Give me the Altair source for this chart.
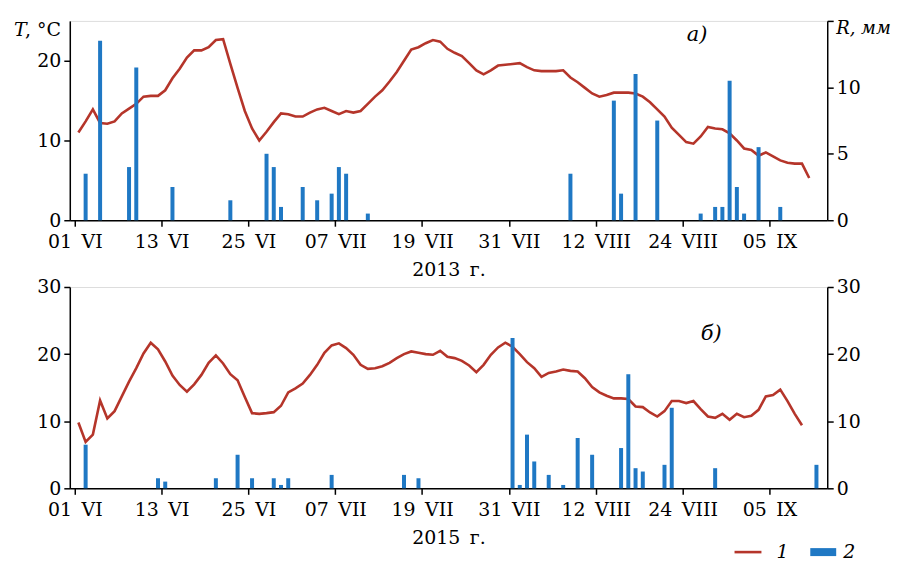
import altair as alt
import pandas as pd

# ---------------- data ----------------
TICK_DAYS = [0, 12, 24, 36, 48, 60, 72, 84, 96]
TICK_LABELS = ["01 VI", "13 VI", "25 VI", "07 VII", "19 VII", "31 VII", "12 VIII", "24 VIII", "05 IX"]

T_2013 = [11.0, 12.4, 13.9, 12.2, 12.1, 12.4, 13.4, 14.0, 14.6, 15.5,
          15.6, 15.6, 16.3, 17.8, 19.0, 20.4, 21.3, 21.3, 21.7, 22.6,
          22.7, 19.6, 16.6, 13.7, 11.5, 10.0, 11.1, 12.3, 13.4, 13.3,
          13.0, 13.0, 13.5, 13.9, 14.1, 13.7, 13.3, 13.7, 13.5, 13.7,
          14.6, 15.5, 16.3, 17.4, 18.6, 20.0, 21.4, 21.7, 22.2, 22.6,
          22.4, 21.5, 21.0, 20.6, 19.7, 18.8, 18.3, 18.8, 19.4, 19.5,
          19.6, 19.7, 19.2, 18.8, 18.7, 18.7, 18.7, 18.8, 17.9, 17.3,
          16.6, 15.9, 15.5, 15.7, 16.0, 16.0, 16.0, 15.9, 15.5, 14.8,
          13.9, 13.0, 11.6, 10.7, 9.8, 9.6, 10.5, 11.7, 11.5, 11.4,
          10.9, 10.0, 9.0, 8.8, 8.1, 8.5, 8.0, 7.5, 7.2, 7.1,
          7.1, 5.3]
DAYS_2013 = list(range(len(T_2013)))

RAIN_DAYS_2013 = [1, 3, 7, 8, 13, 21, 26, 27, 28, 31, 33, 35, 36, 37, 40,
                  68, 74, 75, 77, 80, 86, 88, 89, 90, 91, 92, 94, 97]
RAIN_2013 = [3.5, 13.5, 4.0, 11.5, 2.5, 1.5, 5.0, 4.0, 1.0, 2.5, 1.5, 2.0, 4.0, 3.5, 0.5,
             3.5, 9.0, 2.0, 11.0, 7.5, 0.5, 1.0, 1.0, 10.5, 2.5, 0.5, 5.5, 1.0]

T_2015 = [9.8, 6.9, 8.0, 13.1, 10.4, 11.5, 13.7, 15.9, 17.9, 20.1,
          21.7, 20.7, 18.9, 16.8, 15.4, 14.4, 15.5, 16.9, 18.7, 19.8,
          18.6, 17.0, 16.1, 13.6, 11.2, 11.1, 11.2, 11.35, 12.3, 14.3,
          14.9, 15.6, 16.9, 18.4, 20.2, 21.3, 21.6, 20.9, 19.9, 18.4,
          17.8, 17.9, 18.2, 18.7, 19.4, 20.0, 20.4, 20.2, 20.0, 19.9,
          20.5, 19.6, 19.4, 19.0, 18.3, 17.3, 18.4, 19.9, 21.0, 21.7,
          21.1, 20.0, 18.8, 17.9, 16.6, 17.2, 17.4, 17.7, 17.5, 17.4,
          16.4, 15.1, 14.3, 13.8, 13.4, 13.4, 13.3, 12.2, 12.1, 11.3,
          10.7, 11.5, 13.0, 13.0, 12.7, 13.0, 11.8, 10.7, 10.5, 11.1,
          10.2, 11.1, 10.6, 10.8, 11.7, 13.7, 13.9, 14.7, 13.0, 11.1,
          9.4]
DAYS_2015 = list(range(len(T_2015)))

RAIN_DAYS_2015 = [1, 11, 12, 19, 22, 24, 27, 28, 29, 35, 45, 47,
                  60, 61, 62, 63, 65, 67, 69, 71, 75, 76, 77, 78, 81, 82, 88, 102]
RAIN_2015 = [6.5, 1.5, 1.0, 1.5, 5.0, 1.5, 1.5, 0.5, 1.5, 2.0, 2.0, 1.5,
             22.4, 0.5, 8.0, 4.0, 2.0, 0.5, 7.5, 5.0, 6.0, 17.0, 3.0, 2.5, 3.5, 12.0, 3.0, 3.5]

# ---------------- style ----------------
FONT = "DejaVu Serif, Liberation Serif, serif"
FS = 19
LINE_C = "#b5352a"
BAR_C = "#1f78c4"
W = 760
XMAX = 103.3

label_expr = "[" + ",".join("'" + s.replace(" ", "\u2002") + "'" for s in TICK_LABELS) + "][round(datum.value/12)]"


def axis_common(**kw):
    return alt.Axis(grid=False, domainColor="black", tickColor="black", labelColor="black",
                    labelFont=FONT, labelFontSize=FS, tickSize=6, domainWidth=1.5, tickWidth=1.5,
                    **kw)


def xenc(title):
    return alt.X("pos:Q", scale=alt.Scale(domain=[0, XMAX], nice=False, zero=False),
                 axis=axis_common(values=TICK_DAYS, labelExpr=label_expr, title=title,
                                  titleFont=FONT, titleFontSize=FS, titleFontWeight="normal",
                                  titleColor="black", titlePadding=9, labelPadding=6,
                                  labelFlush=False))


def txt(s, x, y, italic=True, size=FS, align="left"):
    return alt.Chart(pd.DataFrame({"a": [0]})).mark_text(
        text=s, font=FONT, fontSize=size, fontStyle="italic" if italic else "normal",
        align=align, baseline="alphabetic", color="black"
    ).encode(x=alt.value(x), y=alt.value(y))


def panel(days, temps, rdays, rain, year, tmax, rmax, lvals, rvals, rlabel_hide, height, extras):
    tdf = pd.DataFrame({"pos": [d + 0.5 for d in days], "t": temps})
    rdf = pd.DataFrame({"pos": [d + 0.5 for d in rdays], "r": rain})
    line = alt.Chart(tdf).mark_line(color=LINE_C, strokeWidth=2.6).encode(
        x=xenc(year),
        y=alt.Y("t:Q", scale=alt.Scale(domain=[0, tmax], nice=False),
                axis=axis_common(orient="left", values=lvals, title=None, labelPadding=3)),
    )
    rexpr = "datum.value==%s?'':datum.label" % rlabel_hide if rlabel_hide is not None else "datum.label"
    bars = alt.Chart(rdf).mark_bar(color=BAR_C, size=4).encode(
        x=xenc(year),
        y=alt.Y("r:Q", scale=alt.Scale(domain=[0, rmax], nice=False),
                axis=axis_common(orient="right", values=rvals, labelExpr=rexpr, title=None,
                                 labelPadding=3)),
    )
    return alt.layer(line, bars, *extras).resolve_scale(y="independent").properties(width=W, height=height)


top_extras = [
    txt("T", -56, 15),
    txt(",\u00a0°C", -45, 15, italic=False),
    txt("R, мм", 769, 13, size=18),
    txt("а)", 619, 20, size=21),
]
leg_df = pd.DataFrame({"a": [0]})
bottom_extras = [
    txt("б)", 633, 53, size=21),
    alt.Chart(leg_df).mark_rule(color=LINE_C, strokeWidth=2.6).encode(
        x=alt.value(667), x2=alt.value(694), y=alt.value(266)),
    txt("1", 709, 272),
    alt.Chart(leg_df).mark_rect(color=BAR_C).encode(
        x=alt.value(743), x2=alt.value(769), y=alt.value(262), y2=alt.value(270)),
    txt("2", 776, 272),
]

top = panel(DAYS_2013, T_2013, RAIN_DAYS_2013, RAIN_2013, "2013\u2002г.", 25, 15,
            [0, 10, 20], [0, 5, 10, 15], 15, 200, top_extras)
bottom = panel(DAYS_2015, T_2015, RAIN_DAYS_2015, RAIN_2015, "2015\u2002г.", 30, 30,
               [0, 10, 20, 30], [0, 10, 20, 30], None, 202, bottom_extras)

chart = alt.vconcat(top, bottom, spacing=67, bounds="flush").properties(
    padding={"left": 5, "top": 10, "right": 0, "bottom": 0}
).configure_view(stroke=None).configure(background="white")

chart.save("out.html", embed_options={"renderer": "svg", "actions": False})
